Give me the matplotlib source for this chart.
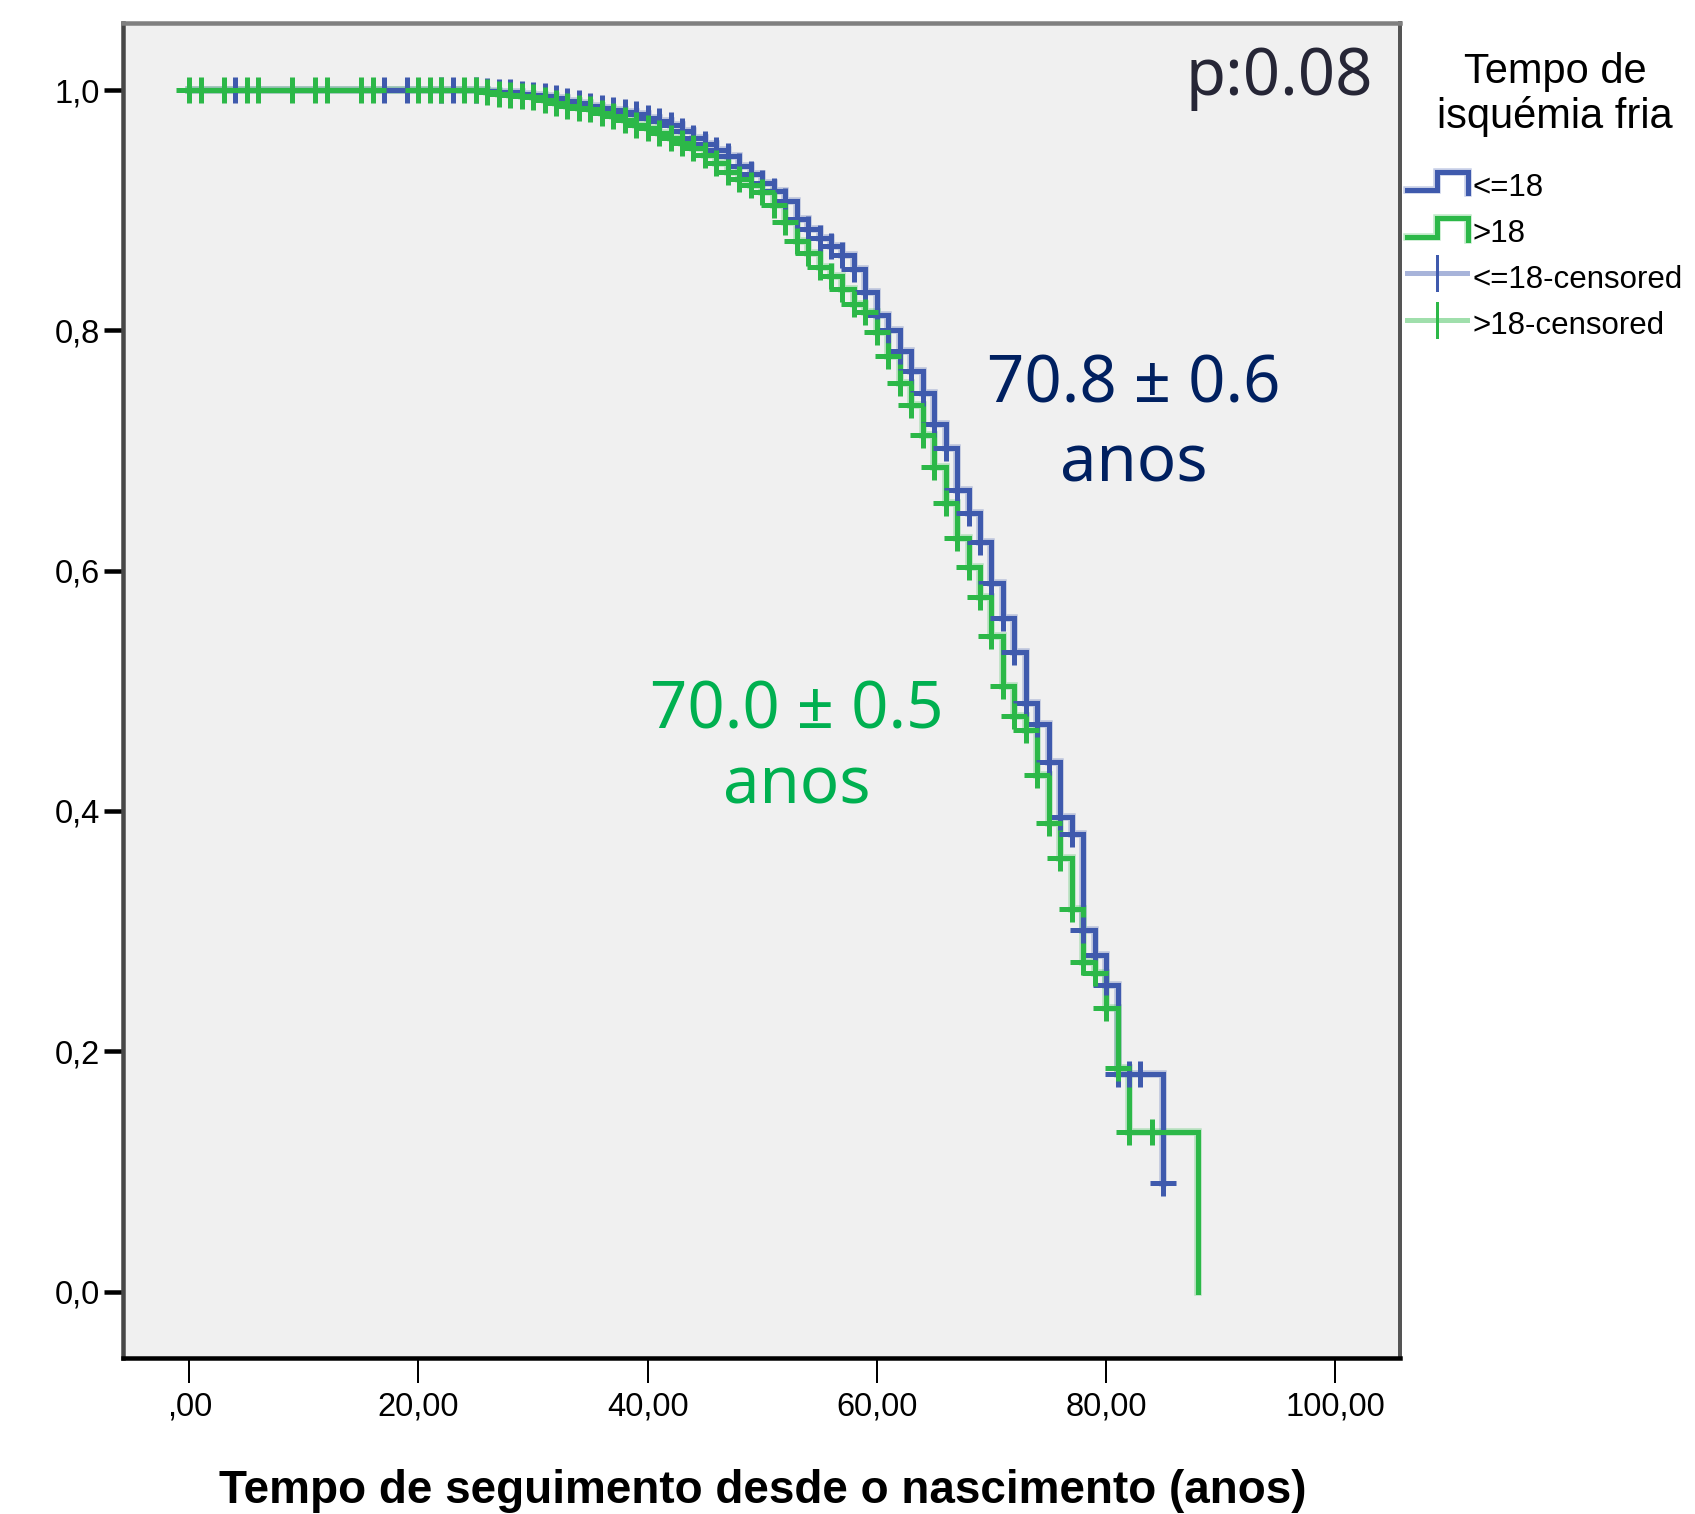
import numpy as np
import matplotlib
matplotlib.use("Agg")
import matplotlib.pyplot as plt
from matplotlib.lines import Line2D

# ---------------- data ----------------
group_labels = ["<=18", ">18"]
censor_labels = ["<=18-censored", ">18-censored"]

blue_time = [0, 26, 27, 28, 29, 30, 31, 32, 33, 34, 35, 36, 37, 38, 39, 40, 41, 42, 43, 44,
             45, 46, 47, 48, 49, 50, 51, 52, 53, 54, 55, 56, 57, 58, 59, 60, 61, 62, 63, 64,
             65, 66, 67, 68, 69, 70, 71, 72, 73, 74, 75, 76, 77, 78, 79, 80, 81, 85]
blue_surv = [1.000, 0.999, 0.998, 0.998, 0.997, 0.996, 0.995, 0.993, 0.991, 0.989, 0.987,
             0.985, 0.983, 0.982, 0.980, 0.977, 0.974, 0.971, 0.966, 0.960, 0.955, 0.950,
             0.945, 0.937, 0.930, 0.923, 0.916, 0.908, 0.893, 0.884, 0.877, 0.870, 0.863,
             0.851, 0.832, 0.813, 0.800, 0.783, 0.766, 0.748, 0.722, 0.702, 0.667, 0.648,
             0.624, 0.590, 0.561, 0.532, 0.490, 0.472, 0.441, 0.395, 0.381, 0.301, 0.280,
             0.255, 0.181, 0.090]
blue_cens = [4, 17, 19, 22, 23, 25, 26, 27, 28, 29, 30, 31, 32, 33, 34, 35, 36, 37, 38, 39,
             40, 41, 42, 43, 44, 45, 46, 47, 48, 49, 50, 51, 52, 53, 54, 55, 56, 57, 58, 59,
             60, 61, 62, 63, 64, 65, 66, 67, 68, 69, 70, 71, 72, 73, 74, 75, 76, 77, 78, 79,
             80, 81, 82, 83, 85]

green_time = [0, 26, 27, 28, 29, 30, 31, 32, 33, 34, 35, 36, 37, 38, 39, 40, 41, 42, 43, 44,
              45, 46, 47, 48, 49, 50, 51, 52, 53, 54, 55, 56, 57, 58, 59, 60, 61, 62, 63, 64,
              65, 66, 67, 68, 69, 70, 71, 72, 73, 74, 75, 76, 77, 78, 79, 80, 81, 82, 88]
green_surv = [1.000, 0.998, 0.997, 0.996, 0.995, 0.994, 0.992, 0.989, 0.987, 0.985, 0.984,
              0.981, 0.978, 0.975, 0.971, 0.968, 0.964, 0.960, 0.956, 0.952, 0.946, 0.939,
              0.932, 0.926, 0.921, 0.915, 0.904, 0.890, 0.874, 0.864, 0.853, 0.845, 0.834,
              0.822, 0.815, 0.799, 0.779, 0.756, 0.738, 0.713, 0.686, 0.656, 0.627, 0.603,
              0.578, 0.546, 0.504, 0.479, 0.467, 0.430, 0.390, 0.361, 0.318, 0.274, 0.265,
              0.236, 0.186, 0.133, 0.000]
green_cens = [0, 1, 3, 5, 6, 9, 11, 12, 15, 16, 20, 21, 22, 24, 25, 26, 27, 28, 29, 30, 31,
              32, 33, 34, 35, 36, 37, 38, 39, 40, 41, 42, 43, 44, 45, 46, 47, 48, 49, 50, 51,
              52, 53, 54, 55, 56, 57, 58, 59, 60, 61, 62, 63, 64, 65, 66, 67, 68, 69, 70, 71,
              72, 73, 74, 75, 76, 77, 78, 79, 80, 81, 82, 84]

x_ticks = [0, 20, 40, 60, 80, 100]
x_ticklabels = [",00", "20,00", "40,00", "60,00", "80,00", "100,00"]
y_ticks = [0.0, 0.2, 0.4, 0.6, 0.8, 1.0]
y_ticklabels = ["0,0", "0,2", "0,4", "0,6", "0,8", "1,0"]

xlabel = "Tempo de seguimento desde o nascimento (anos)"
p_text = "p:0.08"
blue_note = ["70.8 \u00b1 0.6", "anos"]
green_note = ["70.0 \u00b1 0.5", "anos"]

# ---------------- style ----------------
BLUE = "#3F5AAD"
GREEN = "#2CB848"
BLUE_TXT = "#002060"
GREEN_TXT = "#00B050"
W, H = 1695, 1514
PX = 0.72  # points per pixel at dpi 100
SANS = ["Liberation Sans", "DejaVu Sans"]
NOTE = ["Noto Sans", "DejaVu Sans"]

fig = plt.figure(figsize=(W / 100, H / 100), dpi=100)
fig.patch.set_facecolor("white")
ax = fig.add_axes([123 / W, 1 - 1358 / H, (1400 - 123) / W, (1358 - 23) / H])
ax.set_facecolor("#F0F0F0")


def step_value(times, surv, t):
    idx = np.searchsorted(np.asarray(times), t, side="right") - 1
    return np.asarray(surv)[idx]


for times, surv, cens, col in [(blue_time, blue_surv, blue_cens, BLUE),
                               (green_time, green_surv, green_cens, GREEN)]:
    ax.step(times, surv, where="post", color=col, lw=7.5 * PX, alpha=0.3,
            solid_joinstyle="miter", zorder=2)
    ax.step(times, surv, where="post", color=col, lw=5 * PX,
            solid_joinstyle="miter", zorder=3)
    cy = step_value(times, surv, cens)
    ax.plot(cens, cy, ls="none", marker="+", ms=26 * PX, mew=5 * PX,
            color=col, zorder=4)

ax.set_xlim(-5.78, 105.65)
ax.set_ylim(-0.0553, 1.0558)
ax.set_xticks(x_ticks)
ax.set_xticklabels(x_ticklabels, family=SANS, fontsize=23.5)
ax.set_yticks(y_ticks)
ax.set_yticklabels(y_ticklabels, family=SANS, fontsize=23.5)
ax.tick_params(axis="y", length=19 * PX, width=4.5 * PX, color="black", pad=3)
ax.tick_params(axis="x", length=25 * PX, width=2 * PX, color="black", pad=6)

ax.spines["left"].set_color("#474747")
ax.spines["left"].set_linewidth(4.5 * PX)
ax.spines["top"].set_color("#808080")
ax.spines["top"].set_linewidth(4.5 * PX)
ax.spines["right"].set_color("#555555")
ax.spines["right"].set_linewidth(4 * PX)
ax.spines["bottom"].set_color("black")
ax.spines["bottom"].set_linewidth(4.5 * PX)

# annotations (data coordinates)
ax.text(103.3, 0.996, p_text, ha="right", va="baseline", fontsize=47,
        family=NOTE, color="#262636")
ax.text(82.4, 0.740, blue_note[0], ha="center", va="baseline", fontsize=47,
        family=NOTE, color=BLUE_TXT)
ax.text(82.4, 0.6745, blue_note[1], ha="center", va="baseline", fontsize=47,
        family=NOTE, color=BLUE_TXT)
ax.text(53.0, 0.469, green_note[0], ha="center", va="baseline", fontsize=47,
        family=NOTE, color=GREEN_TXT)
ax.text(53.0, 0.4066, green_note[1], ha="center", va="baseline", fontsize=47,
        family=NOTE, color=GREEN_TXT)

# x label
fig.text(763 / W, 1 - 1503 / H, xlabel, ha="center", va="baseline",
         fontsize=33, fontweight="bold", family=SANS, color="black")

# ---------------- legend (drawn in figure pixels) ----------------
def fx(x):
    return x / W


def fy(y):
    return 1 - y / H


fig.text(fx(1555), fy(83), "Tempo de", ha="center", va="baseline",
         fontsize=30, family=SANS, color="black")
fig.text(fx(1555), fy(128), "isquémia fria", ha="center", va="baseline",
         fontsize=30, family=SANS, color="black")

for (low, high, col) in [(190, 172, BLUE), (237, 218, GREEN)]:
    xs = [1407, 1437, 1437, 1468, 1468]
    ys = [low, low, high, high, low + 3]
    fig.add_artist(Line2D([fx(v) for v in xs], [fy(v) for v in ys],
                          transform=fig.transFigure, color=col, lw=7.5 * PX,
                          alpha=0.3, solid_joinstyle="miter"))
    fig.add_artist(Line2D([fx(v) for v in xs], [fy(v) for v in ys],
                          transform=fig.transFigure, color=col, lw=5 * PX,
                          solid_joinstyle="miter"))

for (yc, col) in [(273, BLUE), (320, GREEN)]:
    fig.add_artist(Line2D([fx(1407), fx(1467)], [fy(yc), fy(yc)],
                          transform=fig.transFigure, color=col, lw=5 * PX, alpha=0.45))
    fig.add_artist(Line2D([fx(1437), fx(1437)], [fy(yc - 17), fy(yc + 17)],
                          transform=fig.transFigure, color=col, lw=3 * PX))

for (yc, lab) in [(185, group_labels[0]), (230, group_labels[1]),
                  (277, censor_labels[0]), (322, censor_labels[1])]:
    fig.text(fx(1473), fy(yc), lab, ha="left", va="center_baseline",
             fontsize=22.5, family=SANS, color="black")

fig.savefig("out.png", dpi=100)
